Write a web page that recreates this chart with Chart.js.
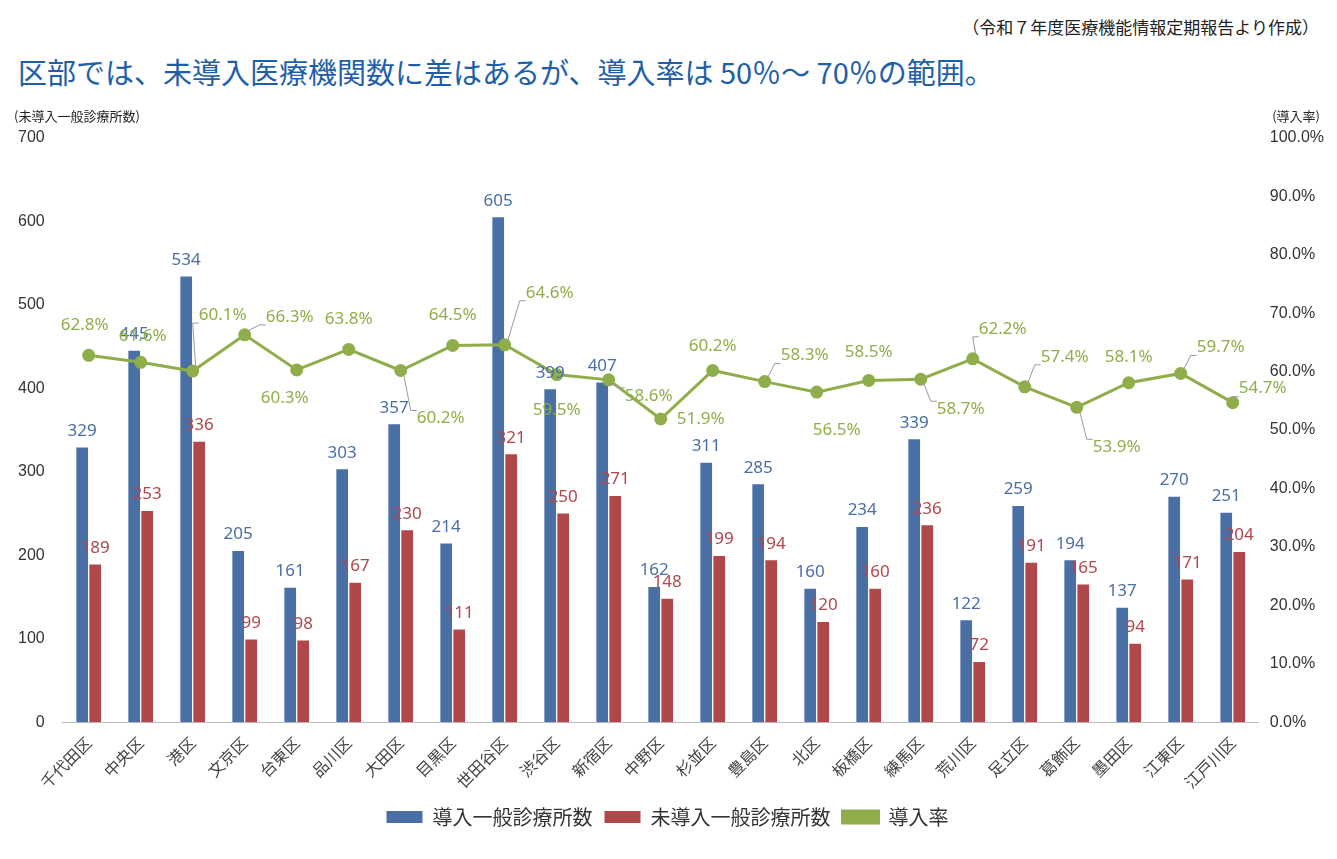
<!DOCTYPE html>
<html><head><meta charset="utf-8">
<script src="https://cdn.jsdelivr.net/npm/chart.js@4"></script>
<style>
body{margin:0;background:#fff;font-family:"Noto Sans CJK JP","Noto Sans",sans-serif;}
#note{position:absolute;right:18px;top:14px;font-size:17px;color:#222;}
#title{position:absolute;left:18px;top:50px;font-size:29px;color:#1f5fa8;}
#wrap{position:absolute;left:0;top:100px;width:1337px;height:759px;}
</style></head><body>
<div id="note">（令和７年度医療機能情報定期報告より作成）</div>
<div id="title">区部では、未導入医療機関数に差はあるが、導入率は 50％～ 70％の範囲。</div>
<div id="wrap"><canvas id="c" width="1337" height="759"></canvas></div>
<script>
const wards = ['千代田区','中央区','港区','文京区','台東区','品川区','大田区','目黒区','世田谷区','渋谷区','新宿区','中野区','杉並区','豊島区','北区','板橋区','練馬区','荒川区','足立区','葛飾区','墨田区','江東区','江戸川区'];
const adopted = [329,445,534,205,161,303,357,214,605,399,407,162,311,285,160,234,339,122,259,194,137,270,251];
const notAdopted = [189,253,336,99,98,167,230,111,321,250,271,148,199,194,120,160,236,72,191,165,94,171,204];
const rate = [62.8,61.6,60.1,66.3,60.3,63.8,60.2,64.5,64.6,59.5,58.6,51.9,60.2,58.3,56.5,58.5,58.7,62.2,57.4,53.9,58.1,59.7,54.7];
// label offsets for rate labels (dx, dy in px)
const rateLabelDx = [-4,2,30,45,-12,0,40,0,45,0,40,40,0,40,20,0,40,30,40,40,0,40,30];
const rateLabelDy = [-30,-26,-56,-18,28,-30,48,-30,-52,36,16,0,-24,-26,38,-28,30,-30,-30,40,-26,-26,-14];

const BLUE='#4a6fa5', RED='#b0474b', GREEN='#8fae4b';

const labels = {
  id:'labels',
  afterDatasetsDraw(chart){
    const ctx = chart.ctx;
    ctx.save();
    ctx.font = '17px "Noto Sans","Noto Sans CJK JP",sans-serif';
    ctx.textAlign='center';
    [0,1].forEach(di=>{
      const meta = chart.getDatasetMeta(di);
      const color = di===0?BLUE:RED;
      meta.data.forEach((b,i)=>{
        ctx.fillStyle=color;
        ctx.textBaseline='bottom';
        ctx.fillText(chart.data.datasets[di].data[i], b.x, b.y-8);
      });
    });
    const meta = chart.getDatasetMeta(2);
    meta.data.forEach((p,i)=>{
      const dx=rateLabelDx[i], dy=rateLabelDy[i];
      const lx=p.x+dx, ly=p.y+dy;
      if (Math.abs(dx)>=30 && Math.abs(dy)>10){
        ctx.strokeStyle='#999';ctx.lineWidth=1;
        ctx.beginPath();ctx.moveTo(p.x+3,p.y+(dy<0?-4:4));
        ctx.lineTo(lx-30,ly+(dy<0?8:-8));ctx.lineTo(lx-24,ly+(dy<0?8:-8));ctx.stroke();
      }
      ctx.fillStyle=GREEN;ctx.textBaseline='middle';
      ctx.fillText(rate[i].toFixed(1)+'%', lx, ly);
    });
    ctx.font='13px "Noto Sans CJK JP",sans-serif';ctx.fillStyle='#222';
    ctx.textAlign='left';ctx.fillText('(未導入一般診療所数)',14,16);
    ctx.textAlign='right';ctx.fillText('(導入率)',1320,16);
    ctx.restore();
  }
};

new Chart(document.getElementById('c'),{
  type:'bar',
  data:{labels:wards,datasets:[
    {label:'導入一般診療所数',data:adopted,backgroundColor:BLUE,yAxisID:'y',order:2,barPercentage:0.9,categoryPercentage:0.5},
    {label:'未導入一般診療所数',data:notAdopted,backgroundColor:RED,yAxisID:'y',order:2,barPercentage:0.9,categoryPercentage:0.5},
    {label:'導入率',type:'line',data:rate,borderColor:GREEN,backgroundColor:GREEN,borderWidth:3,pointRadius:5,pointBackgroundColor:GREEN,yAxisID:'y1',order:1,pointStyle:'circle'}
  ]},
  plugins:[labels],
  options:{
    responsive:false,animation:false,
    layout:{padding:{top:38,left:8,right:10,bottom:22}},
    plugins:{
      legend:{position:'bottom',labels:{font:{size:20,family:'"Noto Sans CJK JP"'},color:'#333',boxWidth:36,boxHeight:12,padding:12,
        sort:(a,b)=>a.datasetIndex-b.datasetIndex}},
      tooltip:{enabled:false}
    },
    scales:{
      x:{grid:{display:false},border:{color:'#bbb'},ticks:{color:'#444',font:{size:16,family:'"Noto Sans CJK JP"'},maxRotation:45,minRotation:45}},
      y:{min:0,max:700,grid:{display:false},border:{display:false},ticks:{stepSize:100,color:'#333',font:{size:16},padding:10}},
      y1:{position:'right',min:0,max:100,grid:{display:false},border:{display:false},ticks:{stepSize:10,color:'#333',font:{size:16},callback:v=>v.toFixed(1)+'%'}}
    }
  }
});
</script></body></html>
